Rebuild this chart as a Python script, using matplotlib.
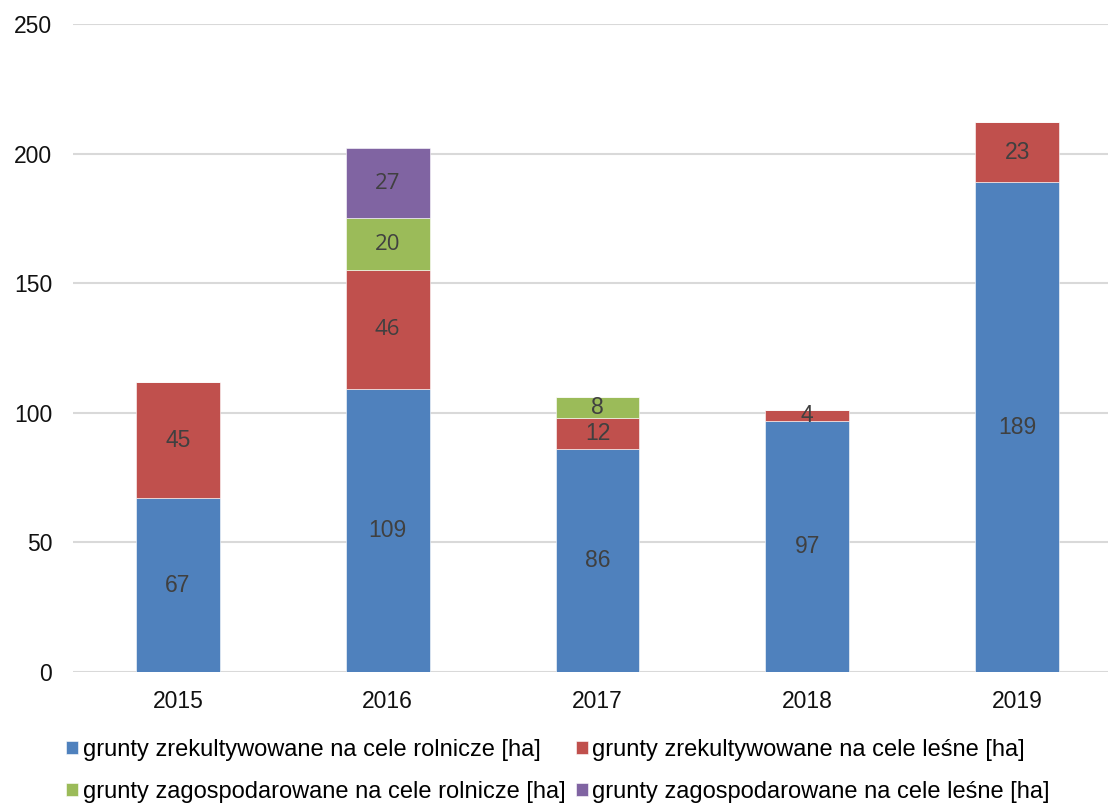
import matplotlib
matplotlib.use("Agg")
import matplotlib.pyplot as plt
import numpy as np

years = ["2015", "2016", "2017", "2018", "2019"]
series_names = [
    "grunty zrekultywowane na cele rolnicze [ha]",
    "grunty zrekultywowane na cele leśne [ha]",
    "grunty zagospodarowane na cele rolnicze [ha]",
    "grunty zagospodarowane na cele leśne [ha]",
]
zrek_rolnicze = [67, 109, 86, 97, 189]
zrek_lesne = [45, 46, 12, 4, 23]
zagosp_rolnicze = [0, 20, 8, 0, 0]
zagosp_lesne = [0, 27, 0, 0, 0]
colors = ["#4F81BD", "#C0504D", "#9BBB59", "#8064A2"]
yticks = [0, 50, 100, 150, 200, 250]

plt.rcParams['font.family'] = ['Liberation Sans', 'DejaVu Sans']

fig = plt.figure(figsize=(11.08, 8.05), dpi=100)
ax = fig.add_axes([73/1108, 1-672/805, 1049/1108, 648/805])

x = np.arange(len(years))
bottom = np.zeros(len(years))
all_series = [zrek_rolnicze, zrek_lesne, zagosp_rolnicze, zagosp_lesne]
calibri_like = {(1, 1), (2, 1), (3, 1)}
handles = []
for si, (vals, c, name) in enumerate(zip(all_series, colors, series_names)):
    vals = np.array(vals, dtype=float)
    bars = ax.bar(x, vals, 0.4, bottom=bottom, color=c, label=name,
                  edgecolor="white", linewidth=0.4, zorder=3)
    handles.append(bars)
    for i, v in enumerate(vals):
        if v > 0:
            if (si, i) in calibri_like:
                fam, fs = ['Open Sans', 'DejaVu Sans'], 16
            else:
                fam, fs = ['Liberation Sans', 'DejaVu Sans'], 16.5
            ax.text(x[i], bottom[i] + v/2, f"{int(v)}", ha="center", va="center",
                    fontsize=fs, color="#404040", family=fam, zorder=4)
    bottom += vals

ax.set_xlim(-0.5, len(years) - 0.5)
ax.set_ylim(0, 250)
ax.set_yticks(yticks)
ax.set_yticklabels([str(t) for t in yticks])
ax.set_xticks(x)
ax.set_xticklabels(years)
ax.tick_params(axis="both", length=0, labelsize=16.5, colors="#111111")
ax.tick_params(axis="y", pad=15)
ax.tick_params(axis="x", pad=13)
ax.grid(axis="y", color="#d9d9d9", linewidth=1.5, zorder=0)
for s in ax.spines.values():
    s.set_visible(False)

order = [0, 2, 1, 3]
leg = fig.legend([handles[k] for k in order], [series_names[k] for k in order],
                 loc="upper left", bbox_to_anchor=(66/1108, 1-739/805), ncol=2,
                 frameon=False, handlelength=0.5, handleheight=0.5,
                 handletextpad=0.2, columnspacing=0.45, labelspacing=0.85,
                 borderpad=0, borderaxespad=0, fontsize=17)
for t in leg.get_texts():
    t.set_color("#000000")

fig.savefig("out.png", dpi=100)
